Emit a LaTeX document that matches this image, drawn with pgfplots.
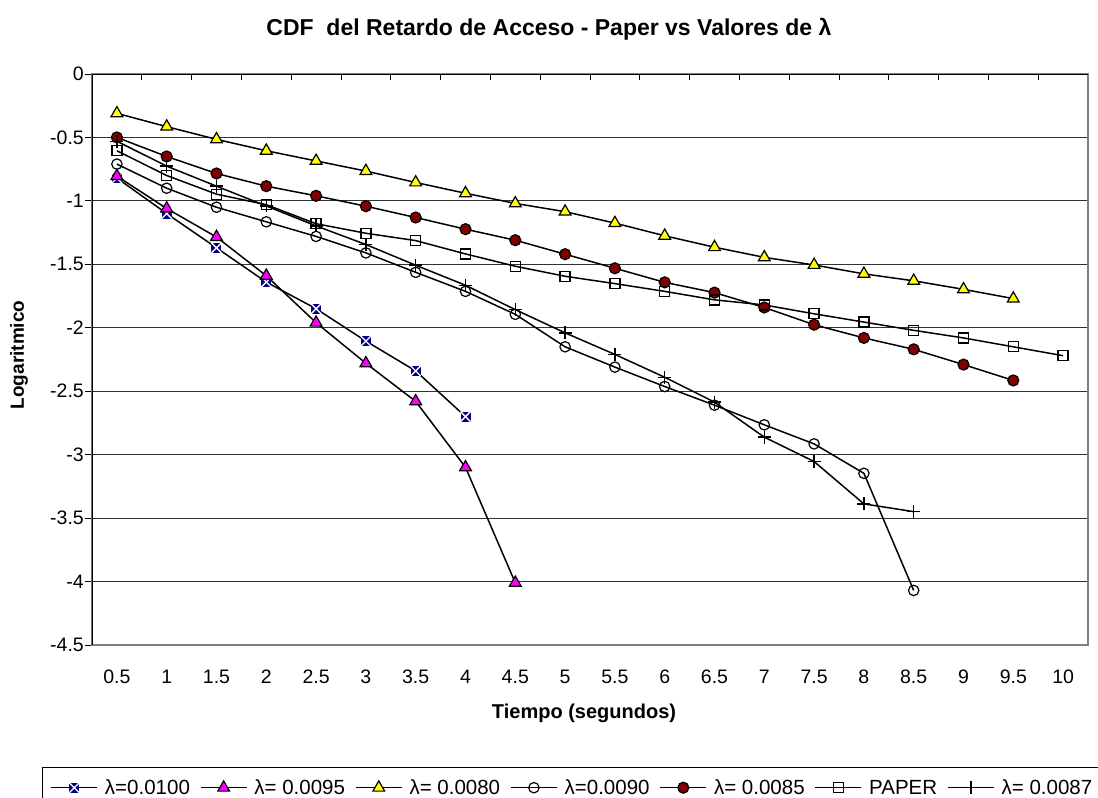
\documentclass[border=0pt]{standalone}
\usepackage{pgfplots}
\pgfplotsset{compat=1.18}
\usepackage{fontspec}
\setmainfont{Liberation Sans}
\definecolor{navyc}{RGB}{0,0,128}
\definecolor{darkredc}{RGB}{128,0,0}
\definecolor{yellowc}{RGB}{255,255,0}
\definecolor{magentac}{RGB}{255,0,255}
\definecolor{gridc}{RGB}{50,50,50}
\definecolor{borderc}{RGB}{128,128,128}
\pgfdeclareplotmark{sqx}{%
  \pgfpathrectangle{\pgfqpoint{-\pgfplotmarksize}{-\pgfplotmarksize}}{\pgfqpoint{2\pgfplotmarksize}{2\pgfplotmarksize}}%
  \pgfsetfillcolor{navyc}%
  \pgfusepathqfill
  \pgfsetstrokecolor{white}%
  \pgfsetlinewidth{1.3pt}%
  \pgfpathmoveto{\pgfqpoint{-\pgfplotmarksize}{-\pgfplotmarksize}}%
  \pgfpathlineto{\pgfqpoint{\pgfplotmarksize}{\pgfplotmarksize}}%
  \pgfpathmoveto{\pgfqpoint{-\pgfplotmarksize}{\pgfplotmarksize}}%
  \pgfpathlineto{\pgfqpoint{\pgfplotmarksize}{-\pgfplotmarksize}}%
  \pgfusepathqstroke
}
\begin{document}
\begin{tikzpicture}
\path[use as bounding box] (-92pt,-153pt) rectangle (1006pt,645pt);
\begin{axis}[
  at={(0pt,0pt)}, anchor=south west, scale only axis,
  width=996pt, height=571pt,
  xmin=0.25, xmax=10.25, ymin=-4.5, ymax=0,
  font=\fontsize{19.5}{22}\selectfont,
  xtick={0.5,1,1.5,2,2.5,3,3.5,4,4.5,5,5.5,6,6.5,7,7.5,8,8.5,9,9.5,10},
  xticklabels={0.5,1,1.5,2,2.5,3,3.5,4,4.5,5,5.5,6,6.5,7,7.5,8,8.5,9,9.5,10},
  minor x tick num=1,
  xtick pos=right, xticklabel pos=left,
  major x tick style={draw=none},
  minor x tick style={black, line width=1pt},
  minor tick length=6pt,
  tick align=inside,
  ytick={-4.5,-4,-3.5,-3,-2.5,-2,-1.5,-1,-0.5,0},
  yticklabels={-4.5,-4,-3.5,-3,-2.5,-2,-1.5,-1,-0.5,0},
  ytick pos=left,
  major y tick style={black, line width=1pt, xshift=-7pt},
  major tick length=7pt,
  ymajorgrids,
  major grid style={gridc, line width=0.9pt},
  axis line style={draw=borderc, line width=1.6pt},
  xticklabel style={anchor=base, yshift=-38pt},
  yticklabel style={anchor=east, inner sep=0pt, xshift=-8pt},
  xlabel={Tiempo (segundos)},
  xlabel style={font=\bfseries\fontsize{20}{24}\selectfont, at={(axis description cs:0.494,-0.1296)}, anchor=base},
  ylabel={Logaritmico},
  ylabel style={font=\bfseries\fontsize{19}{22}\selectfont, at={(axis description cs:-0.0683,0.508)}, anchor=base, rotate=0},
  title={CDF\ \ del Retardo de Acceso - Paper vs Valores de λ},
  title style={font=\bfseries\fontsize{23}{27}\selectfont, at={(axis description cs:0.4588,1.0561)}, anchor=base, yshift=0pt},
  every axis plot/.append style={line width=1.5pt},
  legend columns=7,
  legend cell align=left,
  legend image code/.code={\draw[mark repeat=2,mark phase=2,#1] plot coordinates {(0pt,0pt) (23pt,0pt) (46pt,0pt)};},
  legend style={at={(axis description cs:-0.0502,-0.2137)}, anchor=north west, draw=black, line width=1pt,
    font=\fontsize{20.5}{23}\selectfont, inner xsep=8pt, inner ysep=10pt,
    /tikz/every odd column/.append style={column sep=5pt},
    /tikz/every even column/.append style={column sep=8pt}},
]
\addplot[black, mark=sqx, mark size=5pt] coordinates {
(0.5,-0.82) (1,-1.10) (1.5,-1.37) (2,-1.64) (2.5,-1.85) (3,-2.105) (3.5,-2.34) (4,-2.70)};
\addlegendentry{λ=0.0100}
\addplot[black, mark=triangle*, mark size=6.8pt, mark options={solid, fill=magentac, draw=black, line width=1.2pt}] coordinates {
(0.5,-0.805) (1,-1.06) (1.5,-1.285) (2,-1.59) (2.5,-1.96) (3,-2.28) (3.5,-2.58) (4,-3.10) (4.5,-4.01)};
\addlegendentry{λ= 0.0095}
\addplot[black, mark=triangle*, mark size=6.8pt, mark options={solid, fill=yellowc, draw=black, line width=1.2pt}] coordinates {
(0.5,-0.31) (1,-0.415) (1.5,-0.515) (2,-0.605) (2.5,-0.685) (3,-0.765) (3.5,-0.855) (4,-0.94) (4.5,-1.02) (5,-1.085)
(5.5,-1.175) (6,-1.275) (6.5,-1.365) (7,-1.445) (7.5,-1.505) (8,-1.575) (8.5,-1.63) (9,-1.697) (9.5,-1.77)};
\addlegendentry{λ= 0.0080}
\addplot[black, mark=o, mark size=5.2pt, mark options={solid, draw=black, line width=1.2pt}] coordinates {
(0.5,-0.71) (1,-0.90) (1.5,-1.05) (2,-1.165) (2.5,-1.28) (3,-1.41) (3.5,-1.563) (4,-1.713) (4.5,-1.894) (5,-2.15)
(5.5,-2.31) (6,-2.463) (6.5,-2.61) (7,-2.765) (7.5,-2.915) (8,-3.147) (8.5,-4.07)};
\addlegendentry{λ=0.0090}
\addplot[black, mark=*, mark size=5.5pt, mark options={solid, fill=darkredc, draw=black, line width=1.2pt}] coordinates {
(0.5,-0.50) (1,-0.65) (1.5,-0.784) (2,-0.884) (2.5,-0.96) (3,-1.042) (3.5,-1.131) (4,-1.223) (4.5,-1.31) (5,-1.42)
(5.5,-1.531) (6,-1.642) (6.5,-1.723) (7,-1.84) (7.5,-1.976) (8,-2.08) (8.5,-2.17) (9,-2.29) (9.5,-2.415)};
\addlegendentry{λ= 0.0085}
\addplot[black, mark=square, mark size=5pt, mark options={solid, draw=black, line width=1.3pt}] coordinates {
(0.5,-0.605) (1,-0.80) (1.5,-0.947) (2,-1.03) (2.5,-1.18) (3,-1.255) (3.5,-1.313) (4,-1.418) (4.5,-1.515) (5,-1.594)
(5.5,-1.652) (6,-1.713) (6.5,-1.78) (7,-1.82) (7.5,-1.89) (8,-1.955) (8.5,-2.02) (9,-2.08) (9.5,-2.15) (10,-2.22)};
\addlegendentry{PAPER}
\addplot[black, mark=+, mark size=6.5pt, mark options={solid, draw=black, line width=1.5pt}] coordinates {
(0.5,-0.53) (1,-0.726) (1.5,-0.884) (2,-1.04) (2.5,-1.197) (3,-1.344) (3.5,-1.507) (4,-1.665) (4.5,-1.857) (5,-2.04)
(5.5,-2.21) (6,-2.39) (6.5,-2.586) (7,-2.862) (7.5,-3.054) (8,-3.388) (8.5,-3.449)};
\addlegendentry{λ= 0.0087}
\draw[black, line width=1.6pt] (rel axis cs:0,0) -- (rel axis cs:0,1) -- (rel axis cs:1,1);
\end{axis}
\end{tikzpicture}
\end{document}
